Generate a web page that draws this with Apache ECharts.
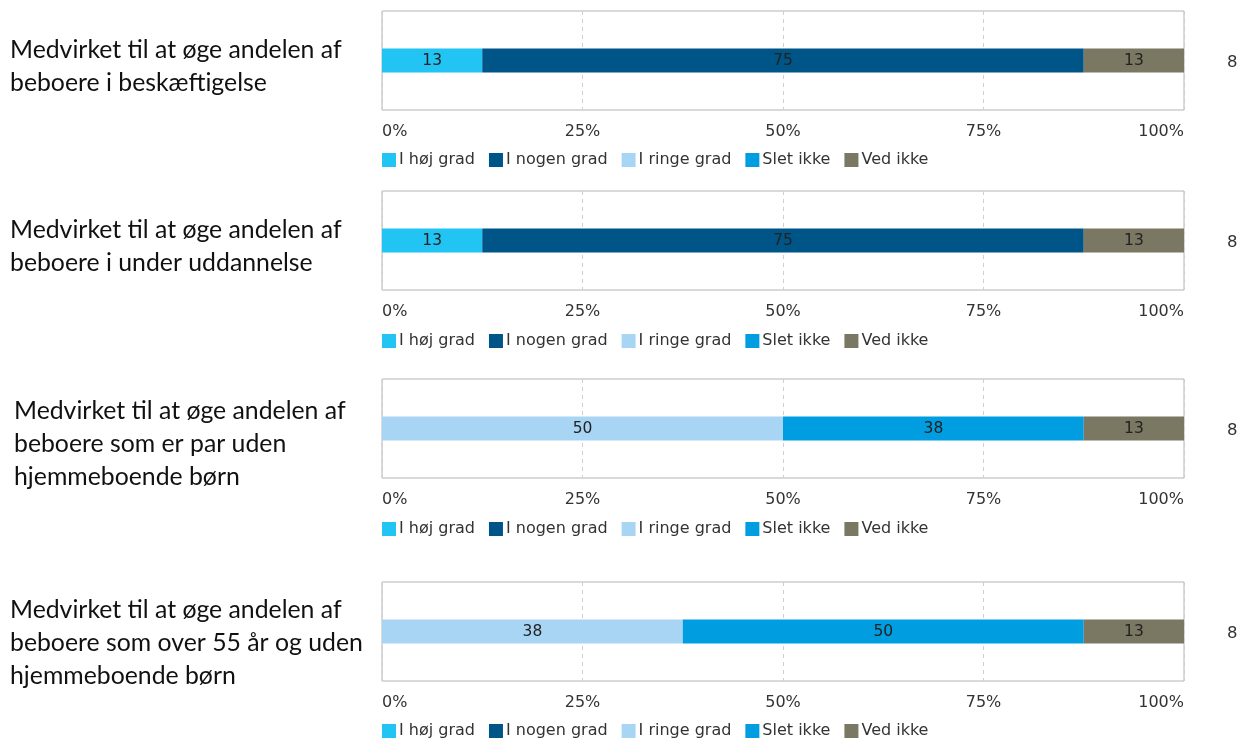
<!DOCTYPE html>
<html>
<head>
<meta charset="utf-8">
<script src="https://cdn.jsdelivr.net/npm/echarts@6/dist/echarts.min.js"></script>
<style>
  html, body { margin: 0; padding: 0; background: #fff; }
  #chart { width: 1246px; height: 738px; }
</style>
</head>
<body>
<div id="chart"></div>
<script>
// Answer categories (legend order) and their colours
const answerNames = ['I høj grad', 'I nogen grad', 'I ringe grad', 'Slet ikke', 'Ved ikke'];
const answerColors = ['#21c4f3', '#005588', '#a9d5f5', '#009ee0', '#7a7763'];

// Questions, one panel each
const questions = [
  'Medvirket til at øge andelen af\nbeboere i beskæftigelse',
  'Medvirket til at øge andelen af\nbeboere i under uddannelse',
  'Medvirket til at øge andelen af\nbeboere som er par uden\nhjemmeboende børn',
  'Medvirket til at øge andelen af\nbeboere som over 55 år og uden\nhjemmeboende børn'
];

// Percentages per answer, one value per question
const hoejGrad   = [12.5, 12.5, 0, 0];
const nogenGrad  = [75, 75, 0, 0];
const ringeGrad  = [0, 0, 50, 37.5];
const sletIkke   = [0, 0, 37.5, 50];
const vedIkke    = [12.5, 12.5, 12.5, 12.5];
const answerValues = [hoejGrad, nogenGrad, ringeGrad, sletIkke, vedIkke];

// Number of respondents per question
const respondents = [8, 8, 8, 8];

// Panel layout
const panelTops = [11, 191, 379, 582];
const panelHeight = 99;
const legendTops = [147, 328, 516, 718];
const questionTops = [34, 214, 395, 594];
const questionLefts = [10, 10, 14, 10];

const chartFont = '"DejaVu Sans", Verdana, sans-serif';
const grids = [], xAxes = [], yAxes = [], series = [], legends = [], graphics = [];

questions.forEach((q, p) => {
  grids.push({
    left: 382, right: 62, top: panelTops[p], height: panelHeight,
    show: true, borderColor: '#b4b4b4', borderWidth: 1, backgroundColor: '#fff'
  });
  xAxes.push({
    type: 'value', gridIndex: p, min: 0, max: 100, interval: 25,
    axisLine: { show: false }, axisTick: { show: false },
    axisLabel: {
      formatter: '{value}%', color: '#333', fontFamily: chartFont, fontSize: 16,
      margin: 14, alignMinLabel: 'left', alignMaxLabel: 'right'
    },
    splitLine: { show: true, lineStyle: { color: '#cfcfcf', type: [4, 4], width: 1 } }
  });
  yAxes.push({
    type: 'category', gridIndex: p, data: [q],
    axisLine: { show: false }, axisTick: { show: false }, axisLabel: { show: false },
    splitLine: { show: false }
  });
  answerNames.forEach((name, k) => {
    series.push({
      name: name, type: 'bar', stack: 'q' + p,
      xAxisIndex: p, yAxisIndex: p,
      barWidth: 24,
      itemStyle: { color: answerColors[k] },
      label: {
        show: true, position: 'inside', color: '#222',
        fontFamily: chartFont, fontSize: 15.5,
        formatter: (d) => d.value > 0 ? String(Math.round(d.value)) : ''
      },
      emphasis: { disabled: true },
      data: [answerValues[k][p]]
    });
  });
  legends.push({
    data: answerNames.map(n => ({ name: n, icon: 'rect' })),
    left: 377, top: legendTops[p], orient: 'horizontal',
    itemWidth: 14, itemHeight: 14, itemGap: 14,
    textStyle: { color: '#333', fontFamily: chartFont, fontSize: 16, padding: [0, 0, 0, -2] },
    selectedMode: false
  });
  graphics.push({
    type: 'text', left: questionLefts[p], top: questionTops[p],
    style: {
      text: q, fill: '#111', font: '24.8px Lato, "Open Sans", sans-serif', lineHeight: 33
    }
  });
  graphics.push({
    type: 'text', left: 1227, top: panelTops[p] + 43,
    style: {
      text: String(respondents[p]), fill: '#333', font: '16.5px ' + chartFont
    }
  });
});

const chart = echarts.init(document.getElementById('chart'), null, { renderer: 'canvas' });
chart.setOption({
  animation: false,
  backgroundColor: '#fff',
  grid: grids,
  xAxis: xAxes,
  yAxis: yAxes,
  legend: legends,
  series: series,
  graphic: graphics
});
</script>
</body>
</html>
